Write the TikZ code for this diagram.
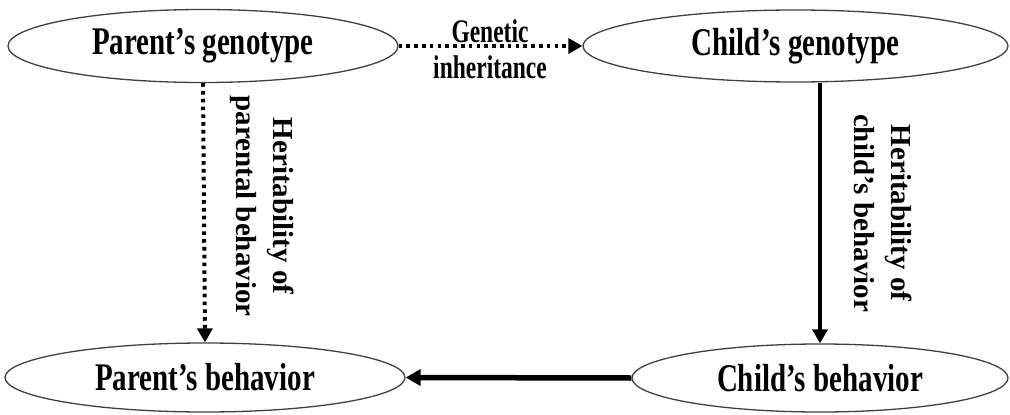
\documentclass[tikz,border=0pt]{standalone}
\usepackage{fontspec}
\setmainfont{Liberation Serif}
\usetikzlibrary{arrows.meta,shapes.geometric}
\newcommand{\sv}[2][1.35]{\scalebox{1}[#1]{#2}}
\begin{document}
\begin{tikzpicture}[x=1pt,y=-1pt,
  oval/.style={draw=black!75,line width=1.3pt,ellipse,inner sep=0pt,
    font=\bfseries\fontsize{29}{34}\selectfont},
  lbl/.style={inner sep=0pt,font=\bfseries\fontsize{23.5}{27}\selectfont},
  vlbl/.style={inner sep=0pt,rotate=-90,align=center,
    font=\bfseries\fontsize{29}{37}\selectfont},
  dotarrow/.style={line width=4pt,dash pattern=on 3.6pt off 4.2pt,
    -{Triangle[length=14pt,width=15pt]}},
  solarrow/.style={line width=4pt,-{Triangle[length=14pt,width=15pt]}},
  thickarrow/.style={line width=5.5pt,-{Triangle[length=15pt,width=16pt]}}]
\useasboundingbox (0,0) rectangle (1010,415);
\node[oval,minimum width=390pt,minimum height=73pt] (pg) at (203,46) {\sv{Parent’s genotype}};
\node[oval,minimum width=425pt,minimum height=72pt] (cg) at (795.5,46) {\sv{Child’s genotype}};
\node[oval,minimum width=400pt,minimum height=69pt] (pb) at (205,377.5) {\sv{Parent’s behavior}};
\node[oval,minimum width=376pt,minimum height=68pt] (cb) at (820,378) {\sv{Child’s behavior}};
\node[lbl] (gen1) at (490,31) {\sv[1.4]{Genetic}};
\node[lbl] (gen2) at (490,67) {\sv[1.4]{inheritance}};
\node[vlbl] (hp) at (262,206) {Heritability of\\parental behavior};
\node[vlbl] (hc) at (883,213) {Heritability of\\child’s behavior};
\draw[dotarrow] (pg.east) -- (cg.west);
\draw[dotarrow] (pg.south) -- (pb.north);
\draw[solarrow] (cg.south -| cb.north) -- (cb.north);
\draw[thickarrow] (cb.west) -- (pb.east);
\end{tikzpicture}
\end{document}
